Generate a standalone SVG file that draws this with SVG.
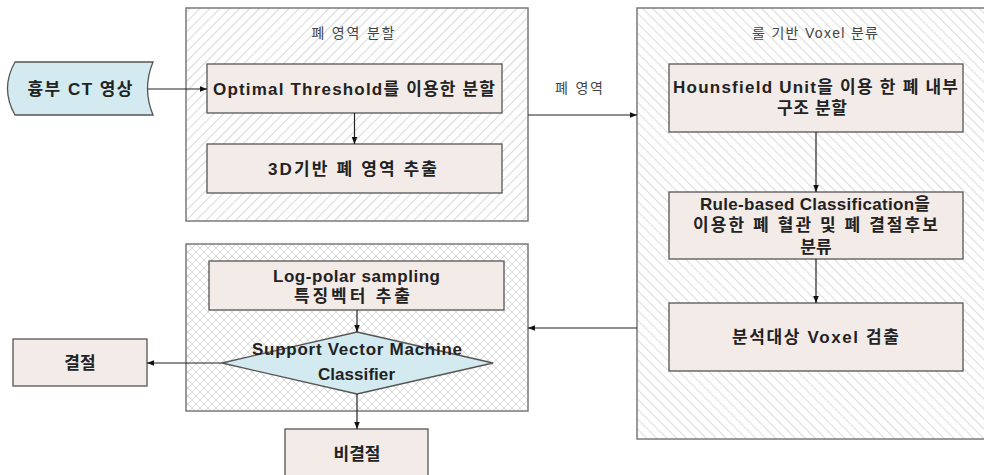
<svg xmlns="http://www.w3.org/2000/svg" width="984" height="475" viewBox="0 0 984 475">
  <style>
    .grp { stroke: #7a7a7a; stroke-width: 1.5; }
    .box { fill: #f3ebe8; stroke: #555; stroke-width: 1.3; }
    .dec { fill: #d3eaf0; stroke: #555; stroke-width: 1.3; }
    .lbl { font-family: "Liberation Sans", "Noto Sans CJK KR", sans-serif; font-weight: bold; font-size: 17px; fill: #222; text-anchor: middle; }
    .ttl { font-family: "Liberation Sans", "Noto Sans CJK KR", sans-serif; font-size: 14px; fill: #444; text-anchor: middle; }
    .con { fill: none; stroke: #222; stroke-width: 1.2; }
  </style>
  <defs>
    <pattern id="hatchFwd" width="7" height="7" patternUnits="userSpaceOnUse" patternTransform="rotate(45)">
      <rect width="7" height="7" fill="#fff"/>
      <line x1="0" y1="0" x2="0" y2="7" stroke="#cfcfcf" stroke-width="1.6"/>
    </pattern>
    <pattern id="hatchBack" width="7" height="7" patternUnits="userSpaceOnUse" patternTransform="rotate(-45)">
      <rect width="7" height="7" fill="#fff"/>
      <line x1="0" y1="0" x2="0" y2="7" stroke="#d2d2d2" stroke-width="1.6"/>
    </pattern>
    <pattern id="cross" width="8" height="8" patternUnits="userSpaceOnUse">
      <rect width="8" height="8" fill="#fff"/>
      <path d="M0,0 L8,8 M8,0 L0,8" stroke="#d6d6d6" stroke-width="0.9"/>
    </pattern>
    <marker id="arr" viewBox="0 0 10 10" refX="10" refY="5" markerWidth="7" markerHeight="7" orient="auto" markerUnits="userSpaceOnUse">
      <path d="M0,1 L10,5 L0,9 z" fill="#111"/>
    </marker>
  </defs>

  <rect width="984" height="475" fill="#fff"/>

  <!-- group: lung region segmentation -->
  <g id="grp-lung">
    <rect class="grp" x="186" y="8" width="342" height="213" fill="url(#hatchFwd)"/>
    <text class="ttl" x="353" y="38" textLength="83" lengthAdjust="spacing">폐 영역 분할</text>
  </g>

  <!-- group: rule based voxel classification -->
  <g id="grp-rule">
    <rect class="grp" x="637" y="8" width="360" height="431" fill="url(#hatchBack)"/>
    <text class="ttl" x="815" y="38" textLength="126" lengthAdjust="spacing">룰 기반 Voxel 분류</text>
  </g>

  <!-- group: feature extraction and classifier -->
  <g id="grp-svm">
    <rect class="grp" x="186" y="244" width="342" height="167" fill="url(#cross)"/>
  </g>

  <g id="n-ct">
    <path class="dec" d="M15,62 L153,62 Q142,88.5 153,115 L15,115 Q0,88.5 15,62 z"/>
    <text class="lbl" x="80" y="95" textLength="105" lengthAdjust="spacing">흉부 CT 영상</text>
  </g>

  <g id="n-thresh">
    <rect class="box" x="207" y="64" width="295" height="49"/>
    <text class="lbl" x="354" y="95" textLength="282" lengthAdjust="spacing">Optimal Threshold를 이용한 분할</text>
  </g>

  <g id="n-3d">
    <rect class="box" x="207" y="144" width="295" height="49"/>
    <text class="lbl" x="352.5" y="175" textLength="169" lengthAdjust="spacing">3D기반 폐 영역 추출</text>
  </g>

  <g id="n-hu">
    <rect class="box" x="669" y="64" width="294" height="68"/>
    <text class="lbl" x="815.5" y="93" textLength="285" lengthAdjust="spacing">Hounsfield Unit을 이용 한 폐 내부</text>
    <text class="lbl" x="812" y="114" textLength="70" lengthAdjust="spacing">구조 분할</text>
  </g>

  <g id="n-rule">
    <rect class="box" x="669" y="192" width="294" height="67"/>
    <text class="lbl" x="815" y="210" textLength="230" lengthAdjust="spacing">Rule-based Classification을</text>
    <text class="lbl" x="815.5" y="231" textLength="245" lengthAdjust="spacing">이용한 폐 혈관 및 폐 결절후보</text>
    <text class="lbl" x="816" y="253">분류</text>
  </g>

  <g id="n-voxel">
    <rect class="box" x="669" y="303" width="294" height="68"/>
    <text class="lbl" x="815.5" y="343" textLength="167" lengthAdjust="spacing">분석대상 Voxel 검출</text>
  </g>

  <g id="n-logpolar">
    <rect class="box" x="209" y="261" width="295" height="49"/>
    <text class="lbl" x="356.5" y="282" textLength="167" lengthAdjust="spacing">Log-polar sampling</text>
    <text class="lbl" x="352" y="302" textLength="116" lengthAdjust="spacing">특징벡터 추출</text>
  </g>

  <g id="n-svm">
    <polygon class="dec" points="357,332 493,363 357,394 222,363"/>
    <text class="lbl" x="357" y="355" textLength="210" lengthAdjust="spacing">Support Vector Machine</text>
    <text class="lbl" x="356.5" y="380" textLength="77" lengthAdjust="spacing">Classifier</text>
  </g>

  <g id="n-nodule">
    <rect class="box" x="13" y="339" width="134" height="47"/>
    <text class="lbl" x="80" y="369">결절</text>
  </g>

  <g id="n-nonnodule">
    <rect class="box" x="285" y="429" width="143" height="50"/>
    <text class="lbl" x="357" y="460">비결절</text>
  </g>

  <!-- connectors -->
  <g id="connectors">
    <line class="con" x1="148" y1="89" x2="207" y2="89" marker-end="url(#arr)"/>
    <line class="con" x1="354.5" y1="113" x2="354.5" y2="144" marker-end="url(#arr)"/>
    <line class="con" x1="528" y1="115" x2="637" y2="115" marker-end="url(#arr)"/>
    <text class="ttl" x="579" y="93" textLength="48" lengthAdjust="spacing">폐 영역</text>
    <line class="con" x1="816" y1="132" x2="816" y2="192" marker-end="url(#arr)"/>
    <line class="con" x1="816" y1="259" x2="816" y2="303" marker-end="url(#arr)"/>
    <line class="con" x1="637" y1="328" x2="528" y2="328" marker-end="url(#arr)"/>
    <line class="con" x1="357" y1="310" x2="357" y2="332" marker-end="url(#arr)"/>
    <line class="con" x1="222" y1="363" x2="147" y2="363" marker-end="url(#arr)"/>
    <line class="con" x1="357" y1="394" x2="357" y2="429" marker-end="url(#arr)"/>
  </g>
</svg>
